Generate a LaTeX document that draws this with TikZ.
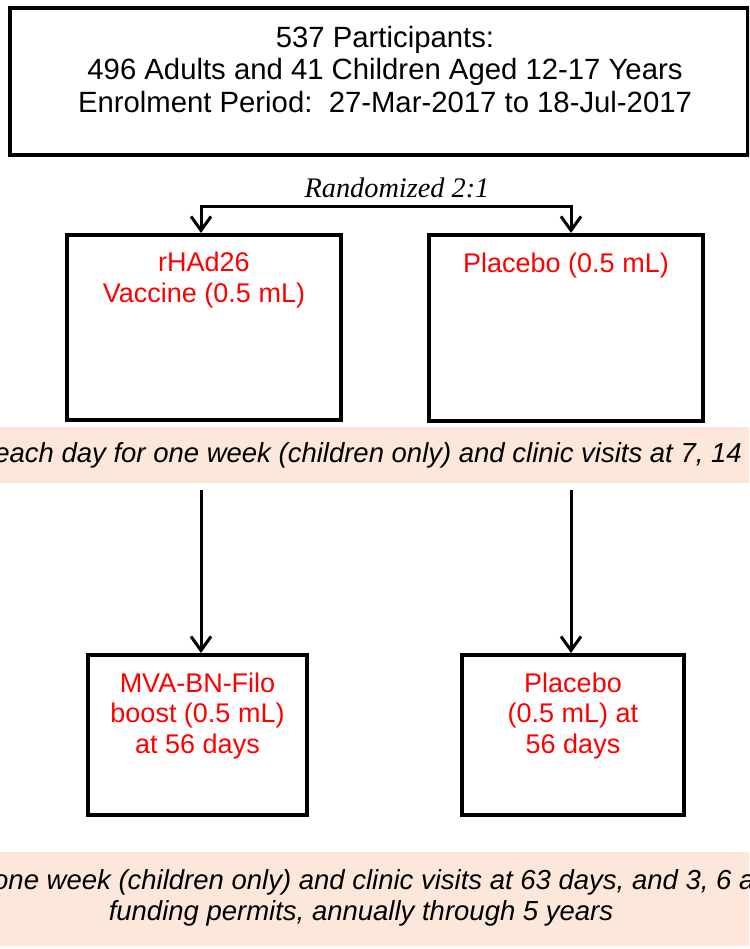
\documentclass[tikz,border=0pt]{standalone}
\usepackage{fontspec}
\setmainfont{Liberation Sans}
\newfontfamily\fonteSorteio{Liberation Serif}
\usetikzlibrary{arrows.meta}
\definecolor{corFaixa}{RGB}{252, 231, 218}
\definecolor{corBraco}{RGB}{255,   0,   0}

\tikzset{
  caixa/.style={draw, line width=4pt, inner sep=0pt},
  texto/.style={font=\fontsize{29.3}{32.5}\selectfont, align=center, inner sep=0pt},
  textoBraco/.style={font=\fontsize{27}{30.5}\selectfont, align=center, inner sep=0pt, text=corBraco},
  textoFaixa/.style={font=\fontsize{27.5}{31}\selectfont\itshape, inner sep=0pt},
  seta/.style={line width=3pt, -{Straight Barb[length=14pt, width=20pt, line width=3pt]}}
}

\begin{document}
\begin{tikzpicture}[x=1pt, y=-1pt]

  \useasboundingbox (0,0) rectangle (749,949);
  \clip (0,0) rectangle (749,949);

  %% ================================================================
  %%  CAIXA SUPERIOR — participantes
  %% ================================================================
  \node[caixa, minimum width=738pt, minimum height=147pt] (participantes) at (379, 81.5) {};
  \node[texto] (textoParticipantes) at (385, 69.5)
    {537 Participants:\\ 496 Adults and 41 Children Aged 12-17 Years\\
     Enrolment Period:\ \ 27-Mar-2017 to 18-Jul-2017};

  %% ================================================================
  %%  SORTEIO 2:1
  %% ================================================================
  \coordinate (sorteio) at (386, 207);
  \node[font=\fonteSorteio\fontsize{28.3}{32}\selectfont\itshape, inner sep=0pt]
        (rotuloSorteio) at (397, 187.5) {Randomized 2:1};

  %% ================================================================
  %%  PRIMEIRA DOSE
  %% ================================================================
  \node[caixa, minimum width=274pt, minimum height=185pt] (vacina)   at (204, 327.5) {};
  \node[caixa, minimum width=274pt, minimum height=186pt] (placebo) at (566, 328) {};
  \node[textoBraco] (textoVacina)  at (204, 280) {rHAd26\\ Vaccine (0.5 mL)};
  \node[textoBraco] (textoPlacebo) at (566, 266) {Placebo (0.5 mL)};

  \coordinate (colunaE) at (201, 0);
  \coordinate (colunaD) at (571, 0);

  \draw[seta] (sorteio) -| (colunaE |- vacina.north);
  \draw[seta] (sorteio) -| (colunaD |- placebo.north);

  % Faixa 1
  \fill[corFaixa] (-5, 427) rectangle (754, 483);
  \node[textoFaixa, anchor=east] (faixaUm) at (742, 455)
    {each day for one week (children only) and clinic visits at 7, 14};

  %% ================================================================
  %%  SEGUNDA DOSE
  %% ================================================================
  \node[caixa, minimum width=219pt, minimum height=160pt] (reforco)        at (197.5, 735) {};
  \node[caixa, minimum width=222pt, minimum height=160pt] (placeboReforco) at (573, 735) {};
  \node[textoBraco] (textoReforco)        at (197.5, 716) {MVA-BN-Filo\\ boost (0.5 mL)\\ at 56 days};
  \node[textoBraco] (textoPlaceboReforco) at (573, 716)   {Placebo\\ (0.5 mL) at\\ 56 days};

  \coordinate (inicioE) at (201, 490);
  \coordinate (inicioD) at (571, 490);
  \draw[seta] (inicioE) -- (inicioE |- reforco.north);
  \draw[seta] (inicioD) -- (inicioD |- placeboReforco.north);

  % Faixa 2
  \fill[corFaixa] (-5, 852) rectangle (754, 946);
  \node[textoFaixa, anchor=west] (faixaDois) at (-7, 882)
    {one week (children only) and clinic visits at 63 days, and 3, 6 a};
  \node[textoFaixa] (faixaTres) at (361, 913)
    {funding permits, annually through 5 years};

\end{tikzpicture}
\end{document}
